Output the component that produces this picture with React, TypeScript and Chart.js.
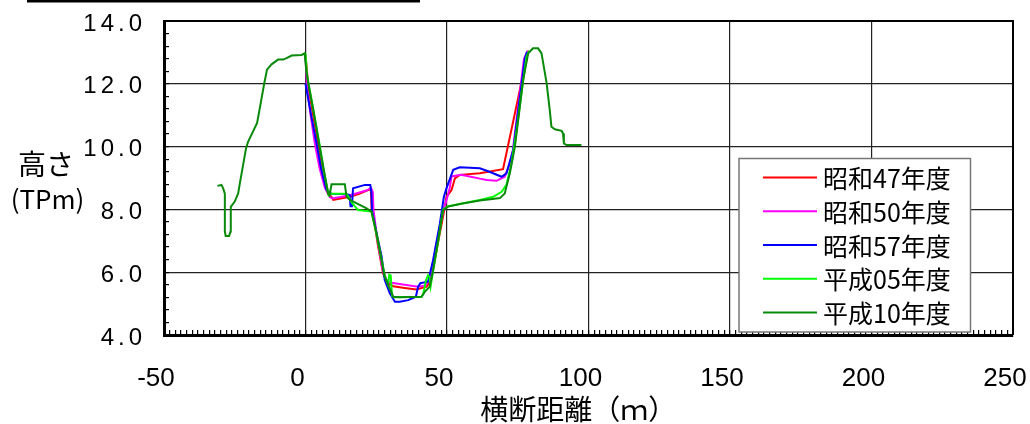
import React, { useEffect, useRef } from "react";
import { Chart, registerables } from "chart.js";

Chart.register(...registerables);

// ---- data (x: 横断距離 m, y: 高さ TPm) ----
const seriesLabels = ["昭和47年度", "昭和50年度", "昭和57年度", "平成05年度", "平成10年度"];
const seriesColors = ["#ff0000", "#ff00ff", "#0000ff", "#00ff00", "#0a8a0a"];

const xTickStep = 50;
const yTickStep = 2;
const xRange = [-50, 250];
const yRange = [4, 14];

const showa47: [number, number][] = [
  [0, 12.92], [1.0, 11.9], [2.5, 11.1], [4.45, 10.1], [6.5, 9.1], [8.0, 8.5], [9.2, 8.4], [9.8, 8.3],
  [15.7, 8.4], [19, 8.5], [22.7, 8.64], [23.1, 8.6], [23.4, 7.95], [24.5, 7.5], [25.5, 6.9], [27.4, 5.96],
  [29.2, 5.65], [31, 5.55], [35, 5.5], [39.2, 5.45], [42.8, 5.54], [44.2, 5.7], [46.3, 6.7], [48.6, 7.77],
  [49.8, 8.4], [51.6, 8.62], [52.8, 8.99], [54.5, 9.1], [61.6, 9.15], [69.8, 9.28], [74, 11.06], [78.7, 13.06],
];

const showa50: [number, number][] = [
  [0, 12.9], [0.5, 11.9], [1.8, 11.0], [3.3, 10.1], [5, 9.3], [6.8, 8.7], [8.5, 8.4], [9.5, 8.35],
  [15.7, 8.45], [21.5, 8.6], [23.2, 8.68], [23.8, 8.55], [24.0, 8.0], [25.3, 7.1], [27.2, 6.1], [28.5, 5.78],
  [29.8, 5.67], [35, 5.6], [39.8, 5.54], [42.5, 5.58], [44, 5.8], [46.5, 7.0], [48.8, 8.0], [50, 8.35],
  [51, 8.7], [51.6, 9.05], [55, 9.1], [58, 9.05], [61.6, 8.98], [64, 8.94], [67.5, 8.91], [70.4, 9.04],
  [72, 9.4], [73.3, 9.9], [77.2, 12.8], [78.5, 13.05],
];

const showa57: [number, number][] = [
  [0, 12.0], [2, 11.0], [3.9, 10.1], [5.5, 9.3], [7.4, 8.62], [9.2, 8.5], [14.5, 8.49], [15.6, 8.45],
  [15.9, 8.1], [16.4, 8.1], [16.8, 8.67], [21, 8.78], [22.9, 8.78], [23.3, 8.5], [23.5, 7.95], [25.2, 7.2],
  [26.9, 6.5], [28, 5.75], [29.8, 5.33], [31.6, 5.06], [33.3, 5.06], [36.3, 5.11], [39, 5.22], [39.8, 5.54],
  [40.6, 5.65], [43.3, 5.7], [45.1, 6.39], [47.5, 7.56], [48.9, 8.4], [49.8, 8.67], [52.2, 9.26], [54.5, 9.34],
  [61.6, 9.31], [65, 9.2], [69.3, 9.04], [71, 9.15], [73.4, 9.89], [77.5, 12.81], [78.3, 13.02],
];

const heisei05: [number, number][] = [
  [0, 12.97], [0.5, 12.3], [2.5, 11.3], [5.0, 10.05], [6.5, 9.2], [8.2, 8.45], [9.0, 8.5], [14.5, 8.5],
  [16.5, 8.2], [18.6, 7.98], [23.3, 7.93], [25.1, 7.2], [28.0, 5.9], [29.2, 5.6], [29.6, 5.92], [30.1, 5.9],
  [30.6, 5.25], [31.2, 5.2], [41.0, 5.22], [41.6, 5.3], [42.6, 5.75], [43.3, 5.9], [43.8, 5.85], [44.2, 5.55],
  [45.2, 6.1], [47, 7.05], [48.6, 8.0], [50.4, 8.1], [61.6, 8.3], [66.3, 8.4], [69.3, 8.56], [71.0, 8.78],
  [72.8, 9.47], [74.6, 10.53], [76.3, 11.7], [78.1, 12.86], [79, 13.05],
];

const heisei10: [number, number][] = [
  [-31.1, 8.75], [-29.7, 8.78], [-29.1, 8.67], [-28.5, 8.5], [-28.5, 7.3], [-28.2, 7.15], [-27.0, 7.15],
  [-26.5, 7.3], [-26.4, 8.08], [-25.0, 8.25], [-23.8, 8.51], [-23.2, 8.83], [-21.0, 9.95], [-20.3, 10.15],
  [-17.1, 10.75], [-16.1, 11.25], [-14.6, 12.0], [-13.6, 12.45], [-12.0, 12.62], [-9.7, 12.77], [-7.9, 12.77],
  [-6.7, 12.82], [-4.9, 12.9], [-1.4, 12.92], [-0.3, 12.97], [0.3, 12.4], [1.0, 12.0], [2.7, 11.2],
  [5.0, 10.0], [6.5, 9.25], [8.0, 8.5], [8.5, 8.45], [9.2, 8.8], [13.9, 8.8], [14.5, 8.4], [15.7, 8.3],
  [21.6, 8.03], [23.3, 7.93], [25.1, 7.24], [28.0, 5.86], [31.0, 5.22], [33.3, 5.2], [41.0, 5.22],
  [42.2, 5.38], [43.9, 5.54], [45.1, 6.07], [46.9, 7.03], [48.6, 7.98], [50.4, 8.09], [55, 8.18],
  [61.6, 8.28], [66, 8.33], [68.7, 8.36], [70.4, 8.51], [72.2, 9.15], [74.0, 10.0], [76.9, 12.12],
  [78.7, 12.97], [80.4, 13.13], [82.2, 13.13], [83.4, 12.97], [85.2, 12.02], [86.3, 11.17], [86.9, 10.63],
  [88.1, 10.55], [90.5, 10.5], [91.0, 10.42], [91.3, 10.1], [92.2, 10.05], [97.5, 10.05],
];

const allSeries = [showa47, showa50, showa57, heisei05, heisei10];
const drawOrder = [4, 3, 2, 1, 0];

const xTitle = "横断距離（ｍ）";
const yTitleLines = ["高さ", "(TPm)"];

const CJK = "'Noto Sans CJK JP', 'Noto Sans', sans-serif";
const SANS = "'Liberation Sans', Arial, sans-serif";

const noPad = (s: any) => {
  s.paddingLeft = 0;
  s.paddingRight = 0;
  s.paddingTop = 0;
  s.paddingBottom = 0;
};

const decorPlugin = {
  id: "decor",
  afterDatasetsDraw(chart: any) {
    const ctx: CanvasRenderingContext2D = chart.ctx;
    const a = chart.chartArea;
    ctx.save();
    // top & right frame
    ctx.strokeStyle = "#000";
    ctx.lineWidth = 2;
    ctx.beginPath();
    ctx.moveTo(a.left, a.top);
    ctx.lineTo(a.right, a.top);
    ctx.lineTo(a.right, a.bottom);
    ctx.stroke();

    // legend box
    const bx = a.right - 274, by = a.top + 137.5, bw = 231.5, bh = 173.5;
    ctx.fillStyle = "#fff";
    ctx.fillRect(bx, by, bw, bh);
    ctx.strokeStyle = "#777";
    ctx.lineWidth = 1.5;
    ctx.strokeRect(bx, by, bw, bh);
    ctx.font = `25px ${CJK}`;
    ctx.textBaseline = "middle";
    ctx.textAlign = "left";
    chart.data.datasets.forEach((ds: any, i: number) => {
      const yy = by + 19 + i * 33.75;
      ctx.strokeStyle = ds.borderColor;
      ctx.lineWidth = 2;
      ctx.beginPath();
      ctx.moveTo(bx + 24, yy);
      ctx.lineTo(bx + 78, yy);
      ctx.stroke();
      ctx.fillStyle = "#000";
      ctx.fillText(ds.label, bx + 84, yy + 1);
    });
    ctx.restore();
  },
  afterDraw(chart: any) {
    const ctx: CanvasRenderingContext2D = chart.ctx;
    ctx.save();
    ctx.fillStyle = "#000";
    ctx.fillRect(27, 0, 393, 2.5);
    ctx.textAlign = "center";
    ctx.textBaseline = "middle";
    ctx.font = `28px ${CJK}`;
    ctx.fillText(yTitleLines[0], 46, 164);
    ctx.font = `26px ${CJK}`;
    ctx.fillText(yTitleLines[1], 47.5, 199);
    ctx.restore();
  },
};

export default function App() {
  const ref = useRef<HTMLCanvasElement>(null);
  useEffect(() => {
    const canvas = ref.current;
    if (!canvas) return;
    const chart: any = new Chart(canvas, {
      type: "line",
      data: {
        datasets: allSeries.map((s, i) => ({
          label: seriesLabels[i],
          data: s.map(([x, y]) => ({ x, y })),
          borderColor: seriesColors[i],
          backgroundColor: seriesColors[i],
          borderWidth: 2,
          pointRadius: 0,
          tension: 0,
          fill: false,
          order: drawOrder[i],
        })),
      },
      options: {
        responsive: false,
        animation: false,
        events: [],
        layout: { padding: { left: 0, right: 17, top: 21, bottom: 0 } },
        plugins: { legend: { display: false }, tooltip: { enabled: false } },
        scales: {
          x: {
            type: "linear",
            position: "bottom",
            weight: 1,
            min: xRange[0],
            max: xRange[1],
            ticks: {
              stepSize: xTickStep,
              color: "#000",
              font: { family: SANS, size: 26 },
              padding: 28,
              labelOffset: -8,
              maxRotation: 0,
              autoSkip: false,
            },
            grid: { color: "#222", lineWidth: 1.2, drawTicks: false },
            border: { display: true, color: "#000", width: 3 },
            title: {
              display: true,
              text: xTitle + "\u3000 ",
              color: "#000",
              font: { family: CJK, size: 28, lineHeight: 1 },
              padding: { top: 0, bottom: 1 },
            },
            afterFit: (s: any) => { s.height = 89; noPad(s); },
          },
          xMinor: {
            type: "linear",
            position: "bottom",
            weight: 0,
            min: xRange[0],
            max: xRange[1],
            ticks: { stepSize: 2, display: false },
            grid: { drawOnChartArea: false, drawTicks: true, tickLength: -5, color: "#000", lineWidth: 1.2 },
            border: { display: false },
            afterFit: (s: any) => { s.height = 0; noPad(s); },
          },
          y: {
            type: "linear",
            position: "left",
            weight: 1,
            min: yRange[0],
            max: yRange[1],
            ticks: {
              stepSize: yTickStep,
              color: "#000",
              font: { family: SANS, size: 24 },
              padding: 18,
              labelOffset: 3,
              callback: (v: any) => Number(v).toFixed(1),
            },
            grid: { color: "#222", lineWidth: 1.2, drawTicks: false },
            border: { display: true, color: "#000", width: 3 },
            afterFit: (s: any) => { s.width = 164; noPad(s); },
          },
          yMinor: {
            type: "linear",
            position: "left",
            weight: 0,
            min: yRange[0],
            max: yRange[1],
            ticks: { stepSize: 0.4, display: false },
            grid: { drawOnChartArea: false, drawTicks: true, tickLength: -5, color: "#000", lineWidth: 1.2 },
            border: { display: false },
            afterFit: (s: any) => { s.width = 0; noPad(s); },
          },
        },
      } as any,
      plugins: [decorPlugin],
    });
    const ys = chart.scales.y;
    const orig = ys.drawLabels.bind(ys);
    ys.drawLabels = (area: any) => {
      const c: any = chart.ctx;
      c.save();
      c.letterSpacing = "4px";
      orig(area);
      c.restore();
    };
    chart.draw();
    return () => chart.destroy();
  }, []);
  return (
    <div style={{ position: "fixed", left: 0, top: 0, width: 1030, height: 424, background: "#fff" }}>
      <canvas ref={ref} width={1030} height={424} style={{ display: "block", width: 1030, height: 424 }} />
    </div>
  );
}
